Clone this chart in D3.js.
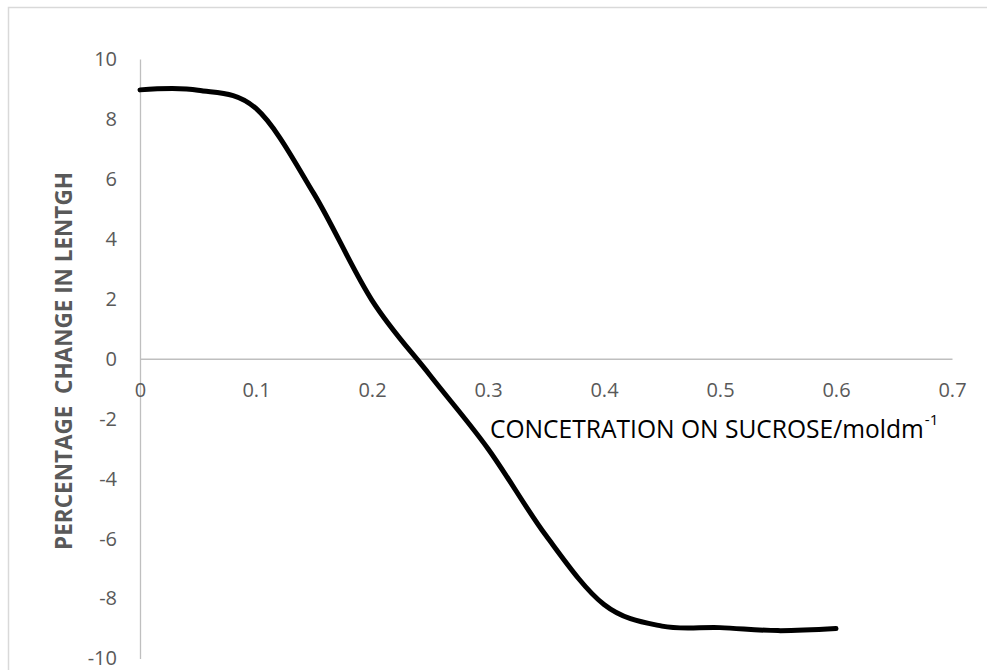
<!DOCTYPE html>
<html>
<head>
<meta charset="utf-8">
<script src="https://cdn.jsdelivr.net/npm/d3@7"></script>
<style>
  html, body { margin: 0; padding: 0; background: #fff; }
  svg { display: block; }
</style>
</head>
<body>
<svg id="chart" width="987" height="670"></svg>
<script>
// ---- data ----
const concentration = [0, 0.05, 0.1, 0.15, 0.2, 0.25, 0.3, 0.35, 0.4, 0.45, 0.5, 0.55, 0.6];
const percentChange = [8.97, 8.96, 8.35, 5.5, 1.95, -0.55, -3.0, -5.9, -8.2, -8.92, -8.97, -9.07, -9.0];
const xTicks = [0, 0.1, 0.2, 0.3, 0.4, 0.5, 0.6, 0.7];
const xTickLabels = ["0", "0.1", "0.2", "0.3", "0.4", "0.5", "0.6", "0.7"];
const yTicks = [10, 8, 6, 4, 2, 0, -2, -4, -6, -8, -10];
const yTickLabels = ["10", "8", "6", "4", "2", "0", "-2", "-4", "-6", "-8", "-10"];
const xTitle = "CONCETRATION ON SUCROSE/moldm";
const xTitleSup = "-1";
const yTitle = "PERCENTAGE  CHANGE IN LENTGH";

const svg = d3.select("#chart");
const FONT = "'Open Sans', 'Noto Sans', sans-serif";

// outer frame
svg.append("rect")
  .attr("x", 8.5).attr("y", 7.5)
  .attr("width", 1000).attr("height", 700)
  .attr("fill", "none").attr("stroke", "#d9d9d9").attr("stroke-width", 1.5);

const x = d3.scaleLinear().domain([0, 0.7]).range([140, 952]);
const y = d3.scaleLinear().domain([-10, 10]).range([658.5, 59]);

// y axis
const yAxis = svg.append("g")
  .attr("transform", `translate(${x(0)},0)`)
  .call(d3.axisLeft(y).tickValues(yTicks)
    .tickFormat((d, i) => yTickLabels[i])
    .tickSize(0).tickSizeOuter(0).tickPadding(23));
yAxis.select(".domain").attr("stroke", "#bfbfbf").attr("stroke-width", 1.3);
yAxis.selectAll("text").attr("font-family", FONT).attr("font-size", 20).attr("fill", "#595959");

// x axis at y = 0
const xAxis = svg.append("g")
  .attr("transform", `translate(0,${y(0)})`)
  .call(d3.axisBottom(x).tickValues(xTicks)
    .tickFormat((d, i) => xTickLabels[i])
    .tickSize(0).tickSizeOuter(0).tickPadding(24));
xAxis.select(".domain").attr("stroke", "#bfbfbf").attr("stroke-width", 1.3);
xAxis.selectAll("text").attr("font-family", FONT).attr("font-size", 20).attr("fill", "#595959");

// line
const line = d3.line()
  .x((d, i) => x(concentration[i]))
  .y(d => y(d))
  .curve(d3.curveCardinal.tension(0));
svg.append("path")
  .datum(percentChange)
  .attr("d", line)
  .attr("fill", "none")
  .attr("stroke", "#000")
  .attr("stroke-width", 5)
  .attr("stroke-linecap", "round")
  .attr("stroke-linejoin", "round");

// helper: fit a text to a target width by scaling its font size
function fitText(sel, targetWidth, base) {
  const w = sel.node().getComputedTextLength();
  const fs = base * targetWidth / w;
  sel.attr("font-size", fs);
  return fs;
}

// x title
const xt = svg.append("text")
  .attr("x", 490).attr("y", 438)
  .attr("font-family", FONT).attr("font-size", 24)
  .attr("fill", "#000")
  .text(xTitle);
const xfs = fitText(xt, 434, 24);
const xtEnd = 490 + xt.node().getComputedTextLength();
svg.append("text")
  .attr("x", xtEnd + 1).attr("y", 425)
  .attr("font-family", FONT).attr("font-size", xfs * 0.62)
  .attr("fill", "#000")
  .text(xTitleSup);

// y title
const yt = svg.append("text")
  .attr("transform", "translate(72,361) rotate(-90)")
  .attr("text-anchor", "middle")
  .attr("font-family", FONT).attr("font-weight", "bold")
  .attr("font-size", 20)
  .attr("fill", "#595959")
  .attr("xml:space", "preserve")
  .style("white-space", "pre")
  .text(yTitle);
fitText(yt, 378, 20);
</script>
</body>
</html>
